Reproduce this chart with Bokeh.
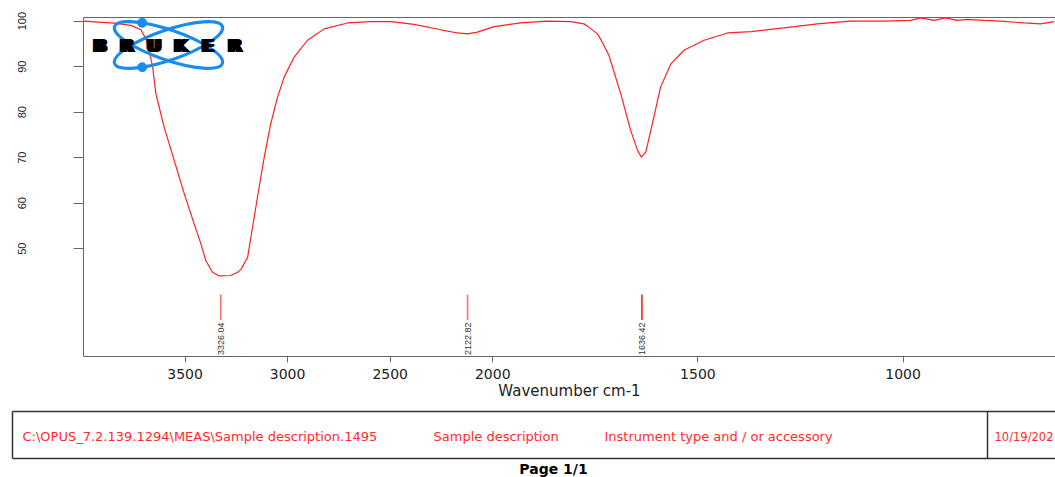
import numpy as np
from bokeh.plotting import figure
from bokeh.models import Range1d, FixedTicker, LinearAxis
from bokeh.core.properties import value
from bokeh.embed import file_html
from bokeh.resources import INLINE

# ---------------- data ----------------
wavenumber = [3995, 3845, 3764, 3715, 3691, 3675, 3658, 3642, 3602, 3553, 3504, 3456,
              3423, 3399, 3366, 3334, 3277, 3244, 3228, 3195, 3171, 3147, 3114, 3082,
              3049, 3017, 2968, 2903, 2822, 2708, 2595, 2497, 2384, 2253, 2172, 2123,
              2075, 1997, 1932, 1867, 1810, 1778, 1769, 1745, 1737, 1717, 1688, 1664,
              1647, 1638, 1627, 1611, 1591, 1566, 1534, 1485, 1428, 1371, 1290, 1209,
              1128, 1047, 982, 957, 925, 896, 868, 843, 803, 762, 705, 665, 632]
transmittance = [100.0, 99.56, 99.06, 98.1, 96.1, 93.6, 89.9, 84.0, 76.7, 69.4, 62.1, 55.5,
                 51.1, 47.4, 44.8, 44.0, 44.1, 44.8, 45.4, 48.1, 54.7, 61.3, 70.1, 77.5,
                 83.3, 87.7, 92.1, 95.8, 98.3, 99.6, 99.9, 99.9, 99.3, 98.1, 97.4, 97.2,
                 97.6, 98.8, 99.6, 100.0, 99.9, 99.4, 98.9, 97.2, 96.0, 92.5, 84.0, 76.0,
                 71.6, 70.1, 71.2, 77.5, 85.5, 90.6, 93.6, 95.8, 97.4, 97.7, 98.5, 99.4,
                 100.0, 100.0, 100.15, 100.7, 100.15, 100.7, 100.15, 100.4, 100.15, 100.0, 99.6, 99.4, 99.9]

peak_wavenumbers = [3326.04, 2122.82, 1636.42]
peak_labels = ["3326.04", "2122.82", "1636.42"]
peak_colors = ["#ff7070", "#ff7070", "#ff2020"]

x_tick_values = [3500, 3000, 2500, 2000, 1500, 1000]
x_tick_labels = ["3500", "3000", "2500", "2000", "1500", "1000"]
y_tick_values = [50, 60, 70, 80, 90, 100]

footer_texts = ["C:\\OPUS_7.2.139.1294\\MEAS\\Sample description.1495",
                "Sample description",
                "Instrument type and / or accessory"]
date_text = "10/19/202"
page_label = "Page 1/1"


# OPUS-style axis: scale doubles below 2000 cm-1
def brk(wn):
    wn = np.asarray(wn, dtype=float)
    return np.where(wn >= 2000, wn, 2000 - 2 * (2000 - wn))


# plotting window of the spectrum (data units) and its place on the page (px)
X0, X1 = 3995.0, -743.0
Y0, Y1 = 26.3, 100.8
FRAME_L, FRAME_T = 83.0, 17.0
PX_PER_X = 972.0 / (X0 - X1)
PX_PER_Y = 339.0 / (Y1 - Y0)


def px2x(px):
    return X0 - (px - FRAME_L) / PX_PER_X


def py2y(py):
    return Y1 - (py - FRAME_T) / PX_PER_Y


RED = "#ff2020"
AXIS = "#666666"
W, H = 1055, 477

p = figure(width=W, height=H, output_backend="svg", toolbar_location=None,
           x_range=Range1d(px2x(0), px2x(W)), y_range=Range1d(py2y(H), py2y(0)),
           x_axis_location=None, y_axis_location=None,
           min_border=0, min_border_left=0, min_border_right=0,
           min_border_top=0, min_border_bottom=0)
p.outline_line_color = None
p.grid.visible = False
p.background_fill_color = "white"
p.border_fill_color = "white"

xt = [float(v) for v in brk(x_tick_values)]
xaxis = LinearAxis(fixed_location=Y0, bounds=(X1, X0), ticker=FixedTicker(ticks=xt),
                   major_label_overrides={v: lab for v, lab in zip(xt, x_tick_labels)},
                   minor_tick_line_color=None, major_tick_in=0, major_tick_out=6,
                   major_tick_line_color=AXIS, axis_line_color=AXIS,
                   major_label_text_font="DejaVu Sans", major_label_text_font_size="14px",
                   major_label_text_color="#222222", major_label_standoff=6,
                   axis_label="Wavenumber cm-1", axis_label_text_font="DejaVu Sans",
                   axis_label_text_font_style="normal", axis_label_text_font_size="15px",
                   axis_label_text_color="#222222", axis_label_standoff=0)
p.add_layout(xaxis, "below")

yaxis = LinearAxis(fixed_location=X0, bounds=(Y0, Y1), ticker=FixedTicker(ticks=y_tick_values),
                   minor_tick_line_color=None, major_tick_in=0, major_tick_out=10,
                   major_tick_line_color=AXIS, axis_line_color=AXIS,
                   major_label_orientation="vertical", major_label_text_font="Liberation Sans",
                   major_label_text_font_size="11px", major_label_text_color="#222222",
                   major_label_standoff=47)
p.add_layout(yaxis, "left")

top_axis = LinearAxis(fixed_location=Y1, bounds=(X1, X0), ticker=FixedTicker(ticks=[]),
                      axis_line_color=AXIS, major_tick_line_color=None,
                      minor_tick_line_color=None, major_label_text_font_size="0px")
p.add_layout(top_axis, "above")

# spectrum
p.line(brk(wavenumber), transmittance, line_color=RED, line_width=1.2)

# peak markers
px = brk(peak_wavenumbers)
p.segment(x0=px, y0=[39.9] * 3, x1=px, y1=[34.3] * 3, line_color=peak_colors, line_width=1.6)
p.text(x=px, y=[33.8] * 3, text=peak_labels, angle=np.pi / 2, text_align="right",
       text_baseline="middle", text_font=value("Liberation Sans"), text_font_size="9px",
       text_color="#333333")

# Bruker logo
BLUE = "#1a8cf0"
cx, cy = px2x(168), py2y(44.5)
p.ellipse(x=[cx, cx], y=[cy, cy], width=114, height=30, width_units="screen",
          height_units="screen", angle=[0.33, -0.33], fill_color=None,
          line_color=BLUE, line_width=3.2)
p.scatter(x=[px2x(141.7), px2x(141.7)], y=[py2y(22.3), py2y(66.7)], size=9,
          color=BLUE)
letters = list("BRUKER")
lx = [px2x(99.5 + 27 * i) for i in range(6)]
for off in (-2, -1, 0, 1, 2):
    p.text(x=lx, y=[cy] * 6, text=letters, x_offset=off,
           text_align="center", text_baseline="middle", text_font=value("DejaVu Sans"),
           text_font_style="bold", text_font_size="18px", text_color="black")

# ---------------- footer ----------------
p.segment(x0=[px2x(12), px2x(12), px2x(12), px2x(987)],
          y0=[py2y(411), py2y(458), py2y(411), py2y(411)],
          x1=[px2x(1080), px2x(1080), px2x(12), px2x(987)],
          y1=[py2y(411), py2y(458), py2y(458), py2y(458)],
          line_color="#333333", line_width=1.5)
p.text(x=[px2x(v) for v in (22, 433, 604)], y=[py2y(436)] * 3, text=footer_texts,
       text_align="left", text_baseline="middle", text_font=value("DejaVu Sans"),
       text_font_size="13px", text_color="#ff2a2a")
p.text(x=[px2x(994)], y=[py2y(436)], text=[date_text],
       text_align="left", text_baseline="middle", text_font=value("DejaVu Sans"),
       text_font_size="11.5px", text_color="#ff2a2a")
p.text(x=[px2x(553)], y=[py2y(468)], text=[page_label], text_align="center",
       text_baseline="middle", text_font=value("DejaVu Sans"), text_font_style="bold",
       text_font_size="14px", text_color="black")

open("out.html", "w").write(file_html(p, INLINE))
